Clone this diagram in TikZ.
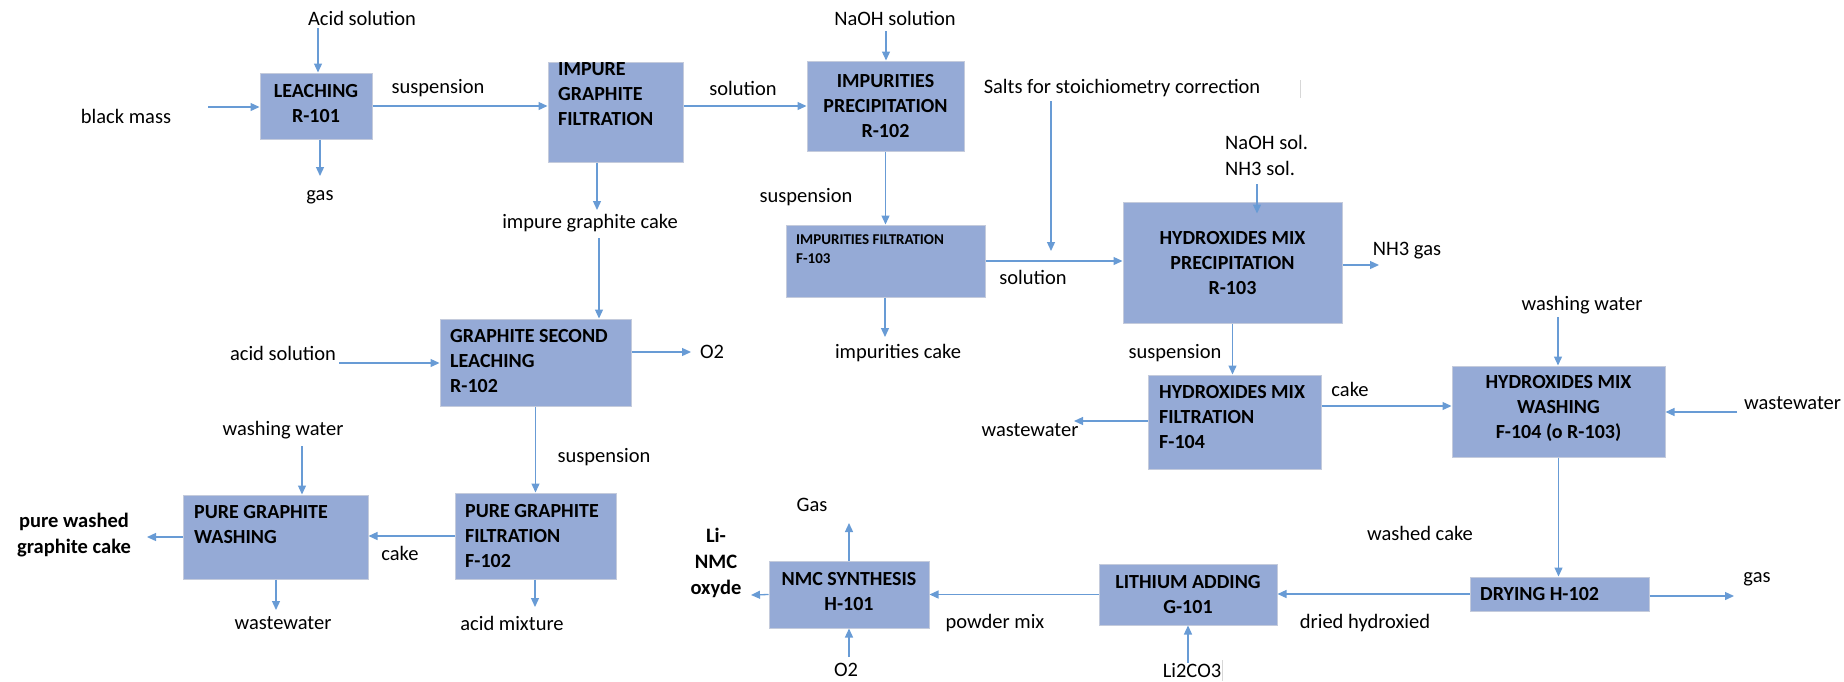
\documentclass[tikz,border=0pt]{standalone}
\usepackage{fontspec}
\setmainfont{Carlito}
\usetikzlibrary{arrows.meta,calc}
\definecolor{boxfill}{RGB}{149,170,214}
\definecolor{boxline}{RGB}{196,203,220}
\definecolor{arrowc}{RGB}{104,155,213}
\definecolor{faint}{RGB}{215,215,215}
\newcommand\lblfont{\fontsize{20.5}{26}\selectfont}
\newcommand\boxfont{\fontsize{20}{25}\selectfont\bfseries}
\newcommand\smallboxfont{\fontsize{15}{19}\selectfont\bfseries}
\begin{document}
\begin{tikzpicture}[x=1pt,y=-1pt,
  pbox/.style={draw=boxline, fill=boxfill, line width=1pt, inner sep=0pt},
  flow/.style={draw=arrowc, line width=1.3pt, -{Triangle[length=9pt,width=8pt]}},
  lbl/.style={font=\lblfont, inner sep=0pt},
  btxt/.style={font=\boxfont, inner sep=0pt},
  artifact/.style={draw=faint, line width=1pt}]
\useasboundingbox (0,0) rectangle (1844,681);
% ---------- boxes ----------
\node[pbox, minimum width=112pt, minimum height=66pt] (b1) at (316,106) {};
\node[pbox, minimum width=135pt, minimum height=100pt] (b2) at (615.5,112) {};
\node[pbox, minimum width=157pt, minimum height=90pt] (b3) at (885.5,106) {};
\node[pbox, minimum width=199pt, minimum height=72pt] (b4) at (885.5,261) {};
\node[pbox, minimum width=219pt, minimum height=121pt] (b5) at (1232.5,262.5) {};
\node[pbox, minimum width=191pt, minimum height=87pt] (b6) at (535.5,362.5) {};
\node[pbox, minimum width=161pt, minimum height=86pt] (b7) at (535.5,536) {};
\node[pbox, minimum width=185pt, minimum height=84pt] (b8) at (275.5,537) {};
\node[pbox, minimum width=173pt, minimum height=94pt] (b9) at (1234.5,422) {};
\node[pbox, minimum width=213pt, minimum height=91pt] (b10) at (1558.5,411.5) {};
\node[pbox, minimum width=179pt, minimum height=34pt] (b11) at (1559.5,594) {};
\node[pbox, minimum width=178pt, minimum height=61pt] (b12) at (1188,594.5) {};
\node[pbox, minimum width=160pt, minimum height=67pt] (b13) at (849,594.5) {};
% ---------- box texts ----------
\node[btxt, align=center] (t1) at (316,103.5) {LEACHING\\R-101};
\node[btxt, align=left, anchor=west] (t2) at (558,94.5) {IMPURE\\GRAPHITE\\FILTRATION};
\node[btxt, align=center] (t3) at (885.5,106) {IMPURITIES\\PRECIPITATION\\R-102};
\node[font=\smallboxfont, inner sep=0pt, align=left, anchor=west] (t4) at (796,249.5) {IMPURITIES FILTRATION\\F-103};
\node[btxt, align=center] (t5) at (1232.5,263) {HYDROXIDES MIX\\PRECIPITATION\\R-103};
\node[btxt, align=left, anchor=west] (t6) at (450,361) {GRAPHITE SECOND\\LEACHING\\R-102};
\node[btxt, align=left, anchor=west] (t7) at (465,536) {PURE GRAPHITE\\FILTRATION\\F-102};
\node[btxt, align=left, anchor=west] (t8) at (194,524.5) {PURE GRAPHITE\\WASHING};
\node[btxt, align=left, anchor=west] (t9) at (1159,417) {HYDROXIDES MIX\\FILTRATION\\F-104};
\node[btxt, align=center] (t10) at (1558.5,408) {HYDROXIDES MIX\\WASHING\\F-104 (o R-103)};
\node[btxt, anchor=west] (t11) at (1480,594) {DRYING H-102};
\node[btxt, align=center] (t12) at (1188,594.5) {LITHIUM ADDING\\G-101};
\node[btxt, align=center] (t13) at (849,591) {NMC SYNTHESIS\\H-101};
% ---------- labels ----------
\node[lbl] (l1) at (362,18) {Acid solution};
\node[lbl] (l2) at (126,116) {black mass};
\node[lbl] (l3) at (320,197) {gas};
\node[lbl] (l4) at (438,88) {suspension};
\node[lbl] (l5) at (743,88) {solution};
\node[lbl] (l6) at (895,18) {NaOH solution};
\node[lbl] (l7) at (1122,88) {Salts for stoichiometry correction};
\node[lbl] (l8) at (806,197) {suspension};
\node[lbl] (l9) at (1033,277) {solution};
\node[lbl] (l10) at (898,353) {impurities cake};
\node[lbl, align=left, anchor=west] (l11) at (1225,155) {NaOH sol.\\NH3 sol.};
\node[lbl] (l12) at (1407,251) {NH3 gas};
\node[lbl] (l13) at (1175,353) {suspension};
\node[lbl] (l14) at (590,223) {impure graphite cake};
\node[lbl] (l15) at (283,353) {acid solution};
\node[lbl] (l16) at (712,352) {O2};
\node[lbl] (l17) at (604,457) {suspension};
\node[lbl] (l18) at (400,553) {cake};
\node[lbl] (l19) at (283,430) {washing water};
\node[lbl] (l20) at (283,623) {wastewater};
\node[lbl] (l21) at (512,623) {acid mixture};
\node[lbl, font=\lblfont\bfseries, align=center] (l22) at (74,535.5) {pure washed\\graphite cake};
\node[lbl] (l23) at (1030,430) {wastewater};
\node[lbl] (l24) at (1350,389) {cake};
\node[lbl] (l25) at (1582,305) {washing water};
\node[lbl, anchor=west] (l26) at (1744,403) {wastewater};
\node[lbl] (l27) at (1420,533) {washed cake};
\node[lbl] (l28) at (1757,579) {gas};
\node[lbl] (l29) at (1365,623) {dried hydroxied};
\node[lbl] (l30) at (1192,671) {Li2CO3};
\node[lbl] (l31) at (995,623) {powder mix};
\node[lbl] (l32) at (812,505) {Gas};
\node[lbl] (l33) at (846,670) {O2};
\node[lbl, font=\lblfont\bfseries, align=center] (l34) at (716,563) {Li-\\NMC\\oxyde};
% ---------- free ends ----------
\coordinate (c1) at (318,28);
\coordinate (c2) at (208,107);
\coordinate (c3) at (320,176);
\coordinate (c6) at (886,31);
\coordinate (c7) at (1051,101);
\coordinate (c7e) at (1051,251);
\coordinate (c10) at (885,337);
\coordinate (c11) at (1257,184);
\coordinate (c12) at (1379,265);
\coordinate (c14) at (597,210);
\coordinate (c14b) at (599,238);
\coordinate (c15) at (339,363);
\coordinate (c16) at (691,352);
\coordinate (c19) at (302,446);
\coordinate (c20) at (276,610);
\coordinate (c21) at (535,607);
\coordinate (c22) at (147,537);
\coordinate (c23) at (1074,421);
\coordinate (c24) at (1400,406);
\coordinate (c25) at (1558,317);
\coordinate (c26) at (1737,412);
\coordinate (c28) at (1734,596);
\coordinate (c30) at (1188,663);
\coordinate (c32) at (849,523);
\coordinate (c33) at (849,657);
\coordinate (c34) at (751,595);
% ---------- connectors ----------
\draw[flow] (c1) -- (c1 |- b1.north);
\draw[flow] (c2) -- (c2 -| b1.west);
\draw[flow] (c3 |- b1.south) -- (c3);
\draw[flow] (b1.east) -- (b1.east -| b2.west);
\draw[flow] (b3.west -| b2.east) -- (b3.west);
\draw[flow] (c6) -- (c6 |- b3.north);
\draw[flow] (c7) -- (c7e);
\draw[flow] (b3.south) -- (b3.south |- b4.north);
\draw[flow] (b4.east) -- (b4.east -| b5.west);
\draw[flow] (c10 |- b4.south) -- (c10);
\draw[flow] (c11) -- ($(c11 |- b5.north)+(0,12)$);
\draw[flow] (c12 -| b5.east) -- (c12);
\draw[flow] (b5.south) -- (b5.south |- b9.north);
\draw[flow] (c14 |- b2.south) -- (c14);
\draw[flow] (c14b) -- (c14b |- b6.north);
\draw[flow] (c15) -- (c15 -| b6.west);
\draw[flow] (c16 -| b6.east) -- (c16);
\draw[flow] (b6.south) -- (b6.south |- b7.north);
\draw[flow] (b7.west) -- (b7.west -| b8.east);
\draw[flow] (c19) -- (c19 |- b8.north);
\draw[flow] (c20 |- b8.south) -- (c20);
\draw[flow] (c21 |- b7.south) -- (c21);
\draw[flow] (b8.west) -- (c22);
\draw[flow] (c23 -| b9.west) -- (c23);
\draw[flow] (c24 -| b9.east) -- (c24 -| b10.west);
\draw[flow] (c25) -- (c25 |- b10.north);
\draw[flow] (c26) -- (c26 -| b10.east);
\draw[flow] (b10.south) -- (b10.south |- b11.north);
\draw[flow] (c28 -| b11.east) -- (c28);
\draw[flow] (b11.west) -- (b11.west -| b12.east);
\draw[flow] (c30) -- (c30 |- b12.south);
\draw[flow] (b12.west) -- (b12.west -| b13.east);
\draw[flow] (c32 |- b13.north) -- (c32);
\draw[flow] (c33) -- (c33 |- b13.south);
\draw[flow] (b13.west) -- (c34);
% ---------- faint marks of the original ----------
\draw[artifact] (1300,80) -- (1300,98);
\draw[artifact] (1222,660) -- (1222,681);
\end{tikzpicture}
\end{document}
